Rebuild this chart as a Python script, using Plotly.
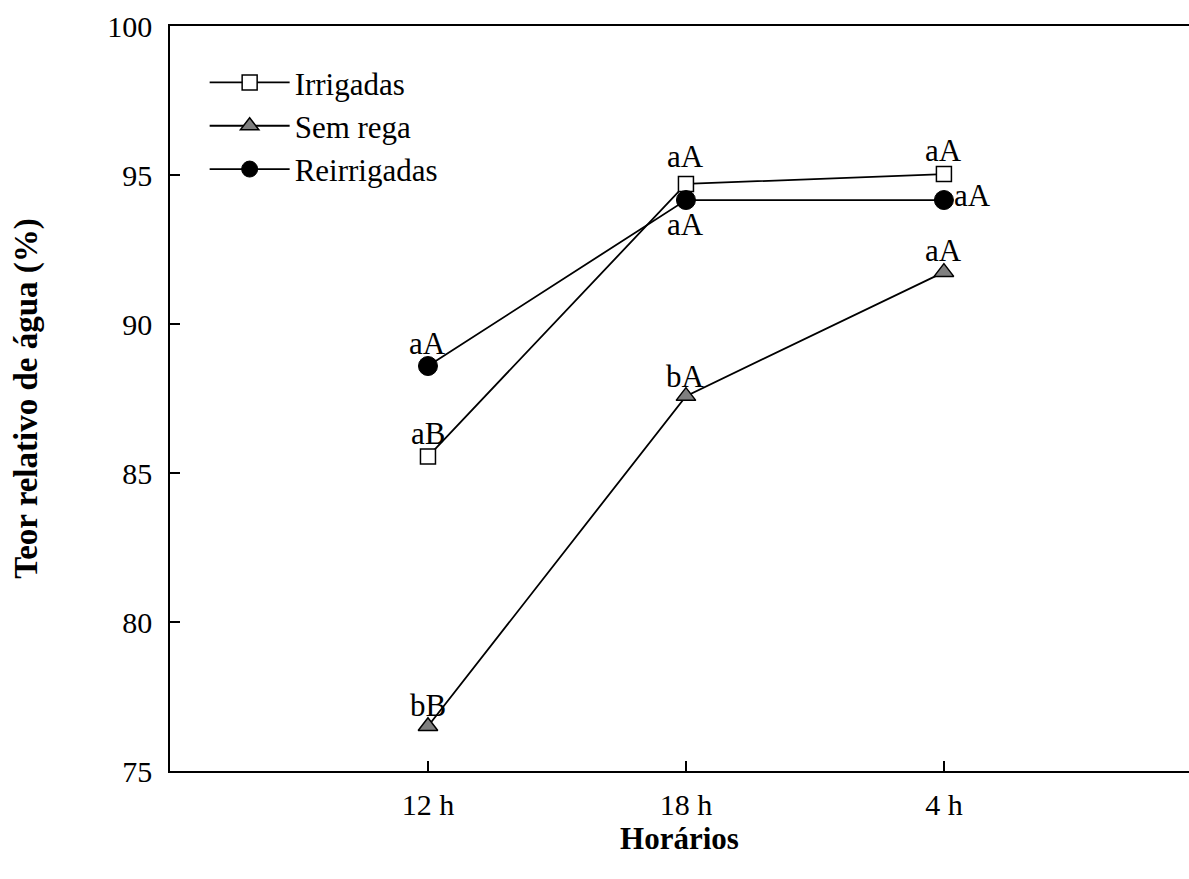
import plotly.graph_objects as go

categories = ["12 h", "18 h", "4 h"]
x_pos = [1, 2, 3]
irrigadas = [85.55, 94.70, 95.03]
sem_rega = [76.50, 87.58, 91.74]
reirrigadas = [88.59, 94.16, 94.16]
labels_irrigadas = ["aB", "aA", "aA"]
labels_sem_rega = ["bB", "bA", "aA"]
labels_reirrigadas = ["aA", "aA", "aA"]

FONT = "Liberation Serif"
FS_TICK = 30
FS_LEG = 31
FS_ANN = 31

fig = go.Figure()
fig.add_trace(go.Scatter(x=x_pos, y=irrigadas, mode="lines+markers", name="Irrigadas",
                         line=dict(color="black", width=1.8),
                         marker=dict(symbol="square", size=15, color="white",
                                     line=dict(color="black", width=1.5))))
fig.add_trace(go.Scatter(x=x_pos, y=sem_rega, mode="lines+markers", name="Sem rega",
                         line=dict(color="black", width=1.8),
                         marker=dict(symbol="triangle-up", size=17, color="#7f7f7f",
                                     line=dict(color="black", width=1.5))))
fig.add_trace(go.Scatter(x=x_pos, y=reirrigadas, mode="lines+markers", name="Reirrigadas",
                         line=dict(color="black", width=1.8),
                         marker=dict(symbol="circle", size=19, color="black",
                                     line=dict(color="black", width=1))))

ann = []
def add(x, y, t, xshift=0, yshift=0, xanchor="center"):
    ann.append(dict(x=x, y=y, text=t, showarrow=False, xref="x", yref="y",
                    xshift=xshift, yshift=yshift, xanchor=xanchor,
                    font=dict(family=FONT, size=FS_ANN, color="black")))

add(x_pos[0], irrigadas[0], labels_irrigadas[0], yshift=23)
add(x_pos[1], irrigadas[1], labels_irrigadas[1], yshift=27)
add(x_pos[2], irrigadas[2], labels_irrigadas[2], yshift=24)
add(x_pos[0], sem_rega[0], labels_sem_rega[0], yshift=21)
add(x_pos[1], sem_rega[1], labels_sem_rega[1], yshift=20)
add(x_pos[2], sem_rega[2], labels_sem_rega[2], yshift=22)
add(x_pos[0], reirrigadas[0], labels_reirrigadas[0], yshift=23)
add(x_pos[1], reirrigadas[1], labels_reirrigadas[1], yshift=-24)
add(x_pos[2], reirrigadas[2], labels_reirrigadas[2], xshift=8, yshift=5, xanchor="left")

fig.update_layout(
    width=1189, height=879,
    margin=dict(l=170, r=0, t=26, b=108),
    paper_bgcolor="white", plot_bgcolor="white",
    font=dict(family=FONT, size=FS_TICK, color="black"),
    annotations=ann,
    showlegend=True,
    legend=dict(x=0.034, y=0.96, xanchor="left", yanchor="top",
                font=dict(family=FONT, size=FS_LEG, color="black"),
                bgcolor="rgba(0,0,0,0)", itemwidth=80, tracegroupgap=0),
    xaxis=dict(range=[0, 3.95], tickmode="array", tickvals=x_pos, ticktext=categories,
               showgrid=False, zeroline=False, showline=True, linecolor="black", linewidth=1.5,
               mirror=True, ticks="inside", ticklen=10, tickwidth=1.5, tickcolor="black",
               tickfont=dict(family=FONT, size=FS_TICK), ticklabelstandoff=6,
               title=dict(text="<b>Horários</b>", font=dict(family=FONT, size=31), standoff=8)),
    yaxis=dict(range=[75, 100], tickmode="array", tickvals=[75, 80, 85, 90, 95, 100],
               showgrid=False, zeroline=False, showline=True, linecolor="black", linewidth=1.5,
               ticks="inside", ticklen=10, tickwidth=1.5, tickcolor="black",
               tickfont=dict(family=FONT, size=FS_TICK), ticklabelstandoff=10,
               title=dict(text="<b>Teor relativo de água (%)</b>", font=dict(family=FONT, size=33),
                          standoff=60)),
)

fig.write_html("out.html")
